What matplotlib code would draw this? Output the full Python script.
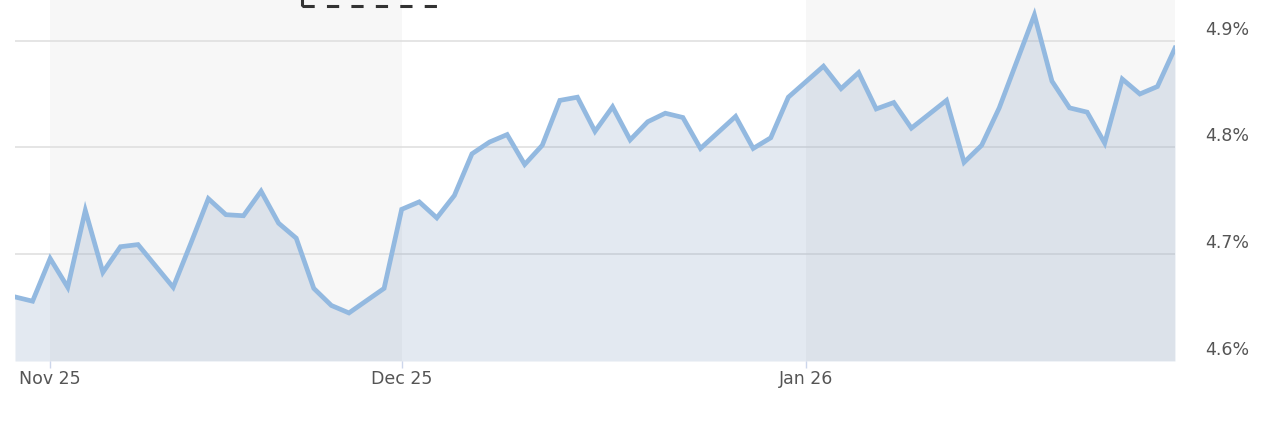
import numpy as np
import pandas as pd
import matplotlib
matplotlib.use("Agg")
from matplotlib import pyplot as plt
from matplotlib import transforms
from matplotlib.patches import Rectangle

# Trading days from Oct 30 2025 to Jan 30 2026 (weekdays); NaN = market holiday
dates = pd.bdate_range("2025-10-30", "2026-01-30")
values = [
    4.660, 4.656,
    # Nov
    4.696, 4.669, 4.741, 4.683, 4.707, 4.709, np.nan, 4.669, 4.710, 4.752,
    4.737, 4.736, 4.759, 4.729, 4.715, 4.668, 4.652, 4.645, np.nan, 4.668,
    # Dec
    4.742, 4.749, 4.734, 4.755, 4.794, 4.805, 4.812, 4.784, 4.802, 4.844,
    4.847, 4.815, 4.838, 4.807, 4.824, 4.832, 4.828, 4.799, np.nan, 4.829,
    4.799, 4.809, 4.847,
    # Jan
    np.nan, 4.876, 4.855, 4.870, 4.836, 4.842, 4.818, 4.831, 4.844, 4.786,
    4.802, 4.837, np.nan, 4.924, 4.862, 4.837, 4.833, 4.804, 4.864, 4.850,
    4.857, 4.893,
]
y_ticks = [4.6, 4.7, 4.8, 4.9]

values = np.array(values)
idx = np.arange(len(dates))
ok = ~np.isnan(values)
x, y = idx[ok], values[ok]

# first trading day of each month -> tick positions / labels
month_start = [i for i in idx if i == 0 or dates[i].month != dates[i - 1].month][1:]
month_labels = [dates[i].strftime("%b %y") for i in month_start]

W, H = 1288, 432
fig = plt.figure(figsize=(W / 100, H / 100), dpi=100)
ax = fig.add_axes([15 / W, (H - 361) / H, 1160 / W, 361 / H])

ymin, ymax = 4.6, 4.938
ax.set_xlim(0, len(dates) - 1)
ax.set_ylim(ymin, ymax)

# alternating month bands
bounds = month_start + [len(dates) - 1]
for k in range(0, len(bounds) - 1, 2):
    ax.axvspan(bounds[k], bounds[k + 1], color="#f7f7f7", lw=0, zorder=0)

for t in y_ticks[1:]:
    ax.axhline(t, color="#e0e0e0", lw=1.2, zorder=1)

ax.fill_between(x, y, ymin, color=(115 / 255, 145 / 255, 185 / 255), alpha=0.2, lw=0, zorder=2)
ax.plot(x, y, color="#93b9e0", lw=3.4, solid_joinstyle="miter", zorder=3)

for s in ax.spines.values():
    s.set_visible(False)

ax.set_xticks(month_start)
ax.set_xticklabels(month_labels)
ax.tick_params(axis="x", length=5, width=1, color="#ccd6eb", pad=1.5,
               labelsize=12.5, labelcolor="#555555")
ax.set_yticks([])

lbl_tr = transforms.blended_transform_factory(ax.transAxes, ax.transData)
lbl_tr = lbl_tr + transforms.ScaledTranslation(0.30, 0.02, fig.dpi_scale_trans)
for t in y_ticks:
    ax.text(1, t, f"{t:.1f}%", transform=lbl_tr, ha="left", va="bottom",
            fontsize=12.5, color="#555555")

# dashed selection box at top
fig.add_artist(Rectangle((302 / W, (H - 6) / H), 135 / W, 20 / H, transform=fig.transFigure,
                         fill=False, ec="#333333", lw=2.2, ls=(0, (4, 4)), clip_on=False))

fig.savefig("out.png", dpi=100)
